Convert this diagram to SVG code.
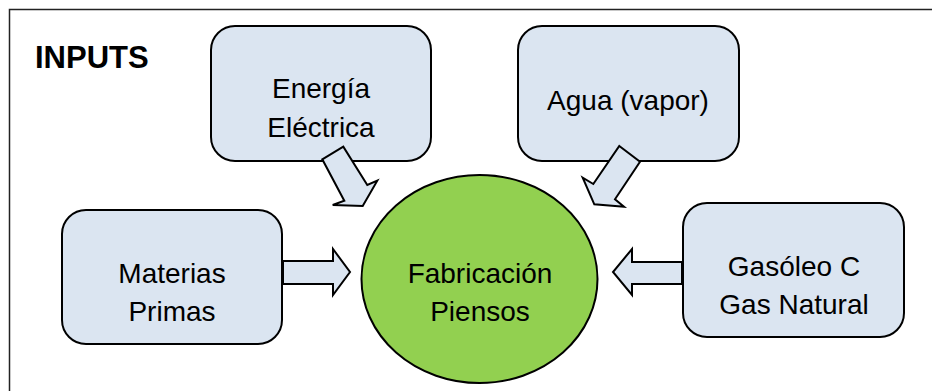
<svg xmlns="http://www.w3.org/2000/svg" width="932" height="391" viewBox="0 0 932 391">
<style>
.box{fill:#dbe5f1;stroke:#000;stroke-width:2}
.arr{fill:#dbe5f1;stroke:#000;stroke-width:2;stroke-linejoin:miter}
.t{font-family:"Liberation Sans",Arial,sans-serif;font-size:28px;fill:#000;text-anchor:middle}
.h{font-family:"Liberation Sans",Arial,sans-serif;font-size:31px;font-weight:bold;fill:#000}
</style>
<rect x="0" y="0" width="932" height="391" fill="#fff"/>
<rect x="9.5" y="9.5" width="940" height="400" fill="none" stroke="#222" stroke-width="1.5"/>
<text class="h" x="35" y="68">INPUTS</text>
<g id="energia">
<rect class="box" x="211" y="26" width="220" height="135" rx="24"/>
<text class="t" x="321" y="98">Energía</text>
<text class="t" x="321" y="137">Eléctrica</text>
</g>
<g id="agua">
<rect class="box" x="518" y="26" width="221" height="135" rx="24"/>
<text class="t" x="628" y="110">Agua (vapor)</text>
</g>
<g id="materias">
<rect class="box" x="62" y="210" width="220" height="134" rx="24"/>
<text class="t" x="172" y="283">Materias</text>
<text class="t" x="172" y="321">Primas</text>
</g>
<g id="gasoleo">
<rect class="box" x="683" y="203" width="221" height="134" rx="24"/>
<text class="t" x="794" y="276">Gasóleo C</text>
<text class="t" x="794" y="314">Gas Natural</text>
</g>
<g id="fabricacion">
<ellipse cx="479.5" cy="279" rx="118" ry="104" fill="#92d050" stroke="#000" stroke-width="2"/>
<text class="t" x="480" y="283">Fabricación</text>
<text class="t" x="480" y="321">Piensos</text>
</g>
<g id="connectors">
<polygon class="arr" points="322.3,159.3 343.3,146.7 367.3,185 377.3,180.7 362.7,206 332.7,205 344.3,200.7"/>
<polygon class="arr" points="619.3,146 640,161.7 615,199.3 624,206.7 594.3,204.3 582.7,177.7 593.3,184"/>
<polygon class="arr" points="283,261 333,261 333,249 350,272 333,295 333,284 283,284"/>
<polygon class="arr" points="682,262 632,262 632,249 613,272 632,295 632,284 682,284"/>
</g>
</svg>
